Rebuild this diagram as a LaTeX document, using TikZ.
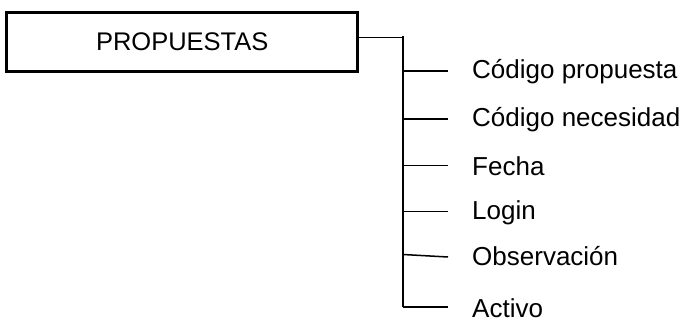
\documentclass[tikz,border=0pt]{standalone}
\usepackage{fontspec}
\setmainfont{Liberation Sans}
\begin{document}
\begin{tikzpicture}[x=1pt,y=-1pt,
  mainbox/.style={draw=black,line width=3pt,minimum width=351pt,minimum height=59pt,inner sep=0pt,font=\fontsize{25.5}{30}\selectfont},
  item/.style={anchor=west,inner sep=0pt,font=\fontsize{26}{30}\selectfont},
  conn/.style={draw=black,line width=1.5pt}]
\useasboundingbox (0,0) rectangle (683,323);
\node[mainbox] (box) at (182.2,41.8) {PROPUESTAS};
\coordinate (top) at (403,36.5);
\coordinate (bot) at (403,307);
\coordinate (b1) at (448,71);
\coordinate (b2) at (448,119);
\coordinate (b3) at (448,165.5);
\coordinate (b4) at (448,211.5);
\coordinate (b5) at (448,257);
\coordinate (b6) at (448,307);
\node[item] (t1) at (472,72) {Código propuesta};
\node[item] (t2) at (472,120) {Código necesidad};
\node[item] (t3) at (472,166.5) {Fecha};
\node[item] (t4) at (472,212.5) {Login};
\node[item] (t5) at (472,256) {Observación};
\node[item] (t6) at (472,308) {Activo};
\draw[conn] (box.east |- 0,37.7) -- (403,37.7);
\draw[conn] (top) -- (bot);
\draw[conn] (b1 -| top) -- (b1);
\draw[conn] (b2 -| top) -- (b2);
\draw[conn] (b3 -| top) -- (b3);
\draw[conn] (b4 -| top) -- (b4);
\draw[conn] (403,254.5) -- (b5);
\draw[conn] (bot) -- (b6);
\end{tikzpicture}
\end{document}
